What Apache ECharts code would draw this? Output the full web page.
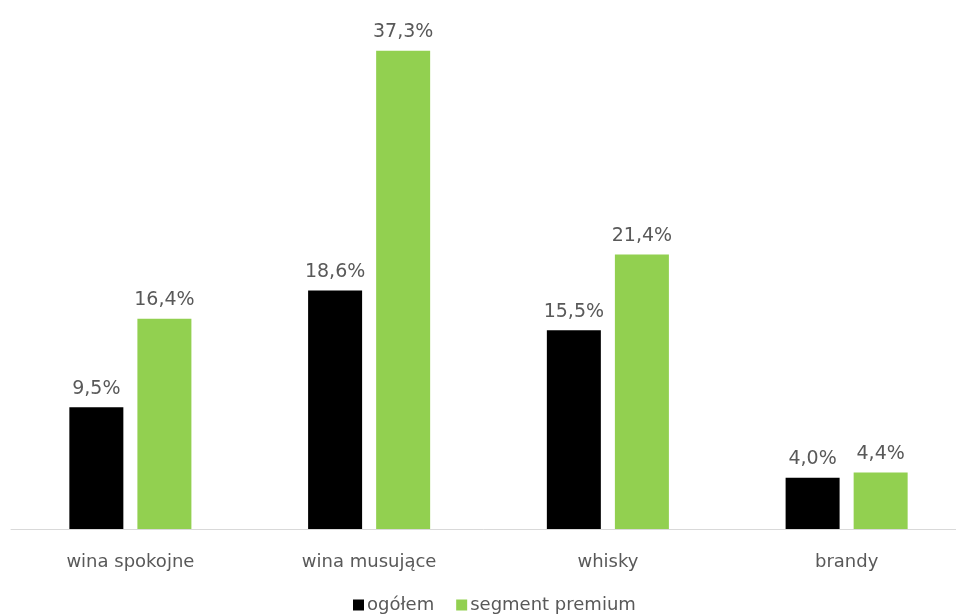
<!DOCTYPE html>
<html>
<head>
<meta charset="utf-8">
<script src="https://cdn.jsdelivr.net/npm/echarts@6/dist/echarts.min.js"></script>
<style>html,body{margin:0;padding:0;background:#fff;}#c{width:956px;height:615px;}</style>
</head>
<body>
<div id="c"></div>
<script>
const categories = ['wina spokojne', 'wina musujące', 'whisky', 'brandy'];
const seriesNames = ['ogółem', 'segment premium'];
const ogolem = [9.5, 18.6, 15.5, 4.0];
const premium = [16.4, 37.3, 21.4, 4.4];
const colors = ['#000000', '#92D050'];

const font = '"DejaVu Sans", Verdana, sans-serif';
const fmt = p => p.value.toFixed(1).replace('.', ',') + '%';
const chart = echarts.init(document.getElementById('c'), null, {renderer: 'canvas'});
chart.setOption({
  animation: false,
  textStyle: {fontFamily: font},
  grid: {left: 11, top: 16, width: 955, bottom: 86, containLabel: false, outerBoundsMode: 'none'},
  legend: {
    top: 591, left: 348,
    itemWidth: 11, itemHeight: 11, itemGap: 22,
    icon: 'rect',
    textStyle: {color: '#595959', fontSize: 18, fontFamily: font, padding: [0, 0, 0, -2]},
    data: seriesNames
  },
  xAxis: {
    type: 'category', data: categories,
    axisLine: {lineStyle: {color: '#d9d9d9', width: 1}},
    axisTick: {show: false},
    axisLabel: {color: '#595959', fontSize: 18, margin: 24, fontFamily: font}
  },
  yAxis: {type: 'value', min: 0, max: 40, show: false, splitLine: {show: false}},
  series: [
    {name: seriesNames[0], type: 'bar', data: ogolem, barWidth: 54, barGap: '26%',
     itemStyle: {color: colors[0]},
     label: {show: true, position: 'top', distance: 9, color: '#595959', fontSize: 19, fontFamily: font, formatter: fmt}},
    {name: seriesNames[1], type: 'bar', data: premium, barWidth: 54, barGap: '26%',
     itemStyle: {color: colors[1]},
     label: {show: true, position: 'top', distance: 9, color: '#595959', fontSize: 19, fontFamily: font, formatter: fmt}}
  ]
});
</script>
</body>
</html>
